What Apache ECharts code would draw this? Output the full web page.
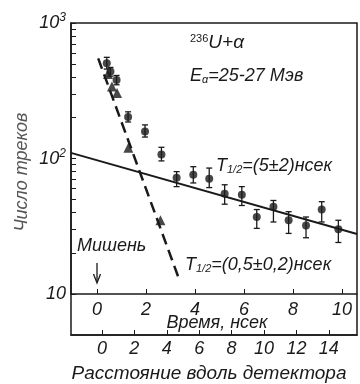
<!DOCTYPE html>
<html>
<head>
<meta charset="utf-8">
<script src="https://cdn.jsdelivr.net/npm/echarts@6/dist/echarts.min.js"></script>
<style>
html, body { margin: 0; padding: 0; background: #fff; }
#chart { width: 360px; height: 384px; }
</style>
</head>
<body>
<div id="chart"></div>
<script>
// measured tracks (circles) with error bars
const timeNs = [0.40, 0.55, 0.80, 1.27, 1.96, 2.63, 3.25, 3.93, 4.58, 5.21, 5.91, 6.52, 7.20, 7.82, 8.53, 9.17, 9.85];
const counts = [504, 439, 379, 202, 158, 107, 72, 76, 71, 55, 54, 37, 44, 35, 32, 42, 30];
const errLow = [457, 405, 350, 186, 144, 96, 62, 66, 61, 46, 45, 30.5, 34, 28, 26, 34, 24];
const errHigh = [558, 470, 410, 221, 177, 121, 80, 87, 85, 64, 62, 42, 49, 40.5, 37, 48, 35];
// triangles
const triTime = [0.45, 0.61, 0.82, 1.28, 2.59];
const triCounts = [421, 340, 304, 120, 35];
// fitted lines
const fastFitTime = [0.05, 3.39];
const fastFitCounts = [548, 12.3];
const slowFitTime = [-1.06, 10.61];
const slowFitCounts = [110, 27.7];
// axis labels
const timeTicks = [0, 2, 4, 6, 8, 10];
const distTicks = [0, 2, 4, 6, 8, 10, 12, 14];
const yMinorTicks = [10, 20, 30, 40, 50, 60, 70, 80, 90, 100, 200, 300, 400, 500, 600, 700, 800, 900, 1000];

const FONT = 'Liberation Sans';
const INK = '#1a1a1a';
const zip = (a, b) => a.map((v, i) => [v, b[i]]);

const chart = echarts.init(document.getElementById('chart'));

const txt = (x, y, text, rich) => ({
    type: 'text',
    x: x, y: y,
    style: {
        text: text,
        fill: INK,
        font: 'italic 18px ' + FONT,
        verticalAlign: 'middle',
        rich: rich || {}
    }
});
const ctxt = (x, y, text, size, color) => ({
    type: 'text',
    x: x, y: y,
    style: { text: text, fill: color || INK, font: 'italic ' + size + 'px ' + FONT, align: 'center', verticalAlign: 'middle' }
});

const tRich = {
    i: { fontSize: 18, fontStyle: 'italic', fontFamily: FONT, color: INK },
    sub: { fontSize: 11, fontStyle: 'italic', fontFamily: FONT, color: INK, verticalAlign: 'bottom', padding: [8, 0, 0, 0] }
};

chart.setOption({
    animation: false,
    grid: [
        { left: 71, right: 3, top: 23, bottom: 90 },
        { left: 71, right: 3, top: 23, bottom: 49, show: true, borderColor: INK, borderWidth: 1.5 }
    ],
    xAxis: [{
        gridIndex: 0,
        type: 'value',
        min: -1.06,
        max: 10.61,
        axisLine: { onZero: false, lineStyle: { color: INK, width: 1.5 } },
        axisTick: { inside: true, length: 5, customValues: timeTicks, lineStyle: { color: INK } },
        splitLine: { show: false },
        axisLabel: {
            customValues: timeTicks,
            margin: 7,
            fontSize: 18, fontStyle: 'italic', fontFamily: FONT, color: INK
        }
    }, {
        gridIndex: 1,
        type: 'value',
        min: -1.91,
        max: 15.74,
        axisLine: { onZero: false, lineStyle: { color: INK, width: 1.5 } },
        axisTick: { inside: true, length: 5, customValues: distTicks, lineStyle: { color: INK } },
        splitLine: { show: false },
        axisLabel: {
            customValues: distTicks,
            margin: 5,
            fontSize: 18, fontStyle: 'italic', fontFamily: FONT, color: INK
        }
    }],
    yAxis: [{
        gridIndex: 0,
        type: 'log',
        min: 10,
        max: 1000,
        axisLine: { show: true, onZero: false, lineStyle: { color: INK, width: 1.5 } },
        axisTick: { inside: true, length: 5, customValues: yMinorTicks, lineStyle: { color: INK } },
        splitLine: { show: false },
        axisLabel: {
            customValues: [10, 100, 1000],
            margin: 5,
            formatter: v => v >= 1000 ? '{b|10}{s|3}' : v >= 100 ? '{b|10}{s|2}' : '{b|10}',
            rich: {
                b: { fontSize: 18, fontStyle: 'italic', fontFamily: FONT, color: INK },
                s: { fontSize: 12, fontStyle: 'italic', fontFamily: FONT, color: INK, verticalAlign: 'top', padding: [0, 0, 10, 0] }
            }
        }
    }, {
        gridIndex: 1,
        type: 'value',
        show: false
    }],
    series: [{
        name: 'errors',
        type: 'custom',
        xAxisIndex: 0, yAxisIndex: 0,
        data: timeNs.map((t, i) => [t, errLow[i], errHigh[i]]),
        renderItem: (params, api) => {
            const lo = api.coord([api.value(0), api.value(1)]);
            const hi = api.coord([api.value(0), api.value(2)]);
            const w = 3;
            const st = { stroke: INK, lineWidth: 1.3 };
            return {
                type: 'group',
                children: [
                    { type: 'line', shape: { x1: lo[0], y1: lo[1], x2: hi[0], y2: hi[1] }, style: st },
                    { type: 'line', shape: { x1: lo[0] - w, y1: lo[1], x2: lo[0] + w, y2: lo[1] }, style: st },
                    { type: 'line', shape: { x1: hi[0] - w, y1: hi[1], x2: hi[0] + w, y2: hi[1] }, style: st }
                ]
            };
        },
        z: 2
    }, {
        name: 'slow',
        type: 'line',
        data: zip(slowFitTime, slowFitCounts),
        symbol: 'none',
        lineStyle: { color: INK, width: 2 },
        z: 1
    }, {
        name: 'fast',
        type: 'line',
        data: zip(fastFitTime, fastFitCounts),
        symbol: 'none',
        lineStyle: { color: INK, width: 2.5, type: [11, 6] },
        z: 1
    }, {
        name: 'tracks',
        type: 'scatter',
        data: zip(timeNs, counts),
        symbol: 'circle',
        symbolSize: 8,
        itemStyle: { color: INK },
        z: 3
    }, {
        name: 'triangles',
        type: 'scatter',
        data: zip(triTime, triCounts),
        symbol: 'triangle',
        symbolSize: 10,
        itemStyle: { color: INK },
        z: 3
    }],
    graphic: [
        txt(190, 43, '{s|236}{n|U+α}', {
            s: { fontSize: 11, fontFamily: FONT, color: INK, verticalAlign: 'top', padding: [0, 0, 9, 0] },
            n: { fontSize: 19, fontStyle: 'italic', fontFamily: FONT, color: INK }
        }),
        txt(190, 76, '{i|E}{sub|α}{i|=25-27 Мэв}', tRich),
        txt(216, 166, '{i|T}{sub|1/2}{i|=(5±2)нсек}', tRich),
        txt(185, 265, '{i|T}{sub|1/2}{i|=(0,5±0,2)нсек}', tRich),
        txt(77, 246, 'Мишень'),
        { type: 'line', shape: { x1: 97, y1: 263, x2: 97, y2: 282 }, style: { stroke: INK, lineWidth: 1.3 } },
        { type: 'polyline', shape: { points: [[93.5, 274], [97, 283], [100.5, 274]] }, style: { stroke: INK, lineWidth: 1.3, fill: null } },
        ctxt(217, 323, 'Время, нсек', 18),
        ctxt(209, 374, 'Расстояние вдоль детектора', 19),
        Object.assign(ctxt(22, 172, 'Число треков', 18, '#555'), { rotation: Math.PI / 2 })
    ]
});
</script>
</body>
</html>
